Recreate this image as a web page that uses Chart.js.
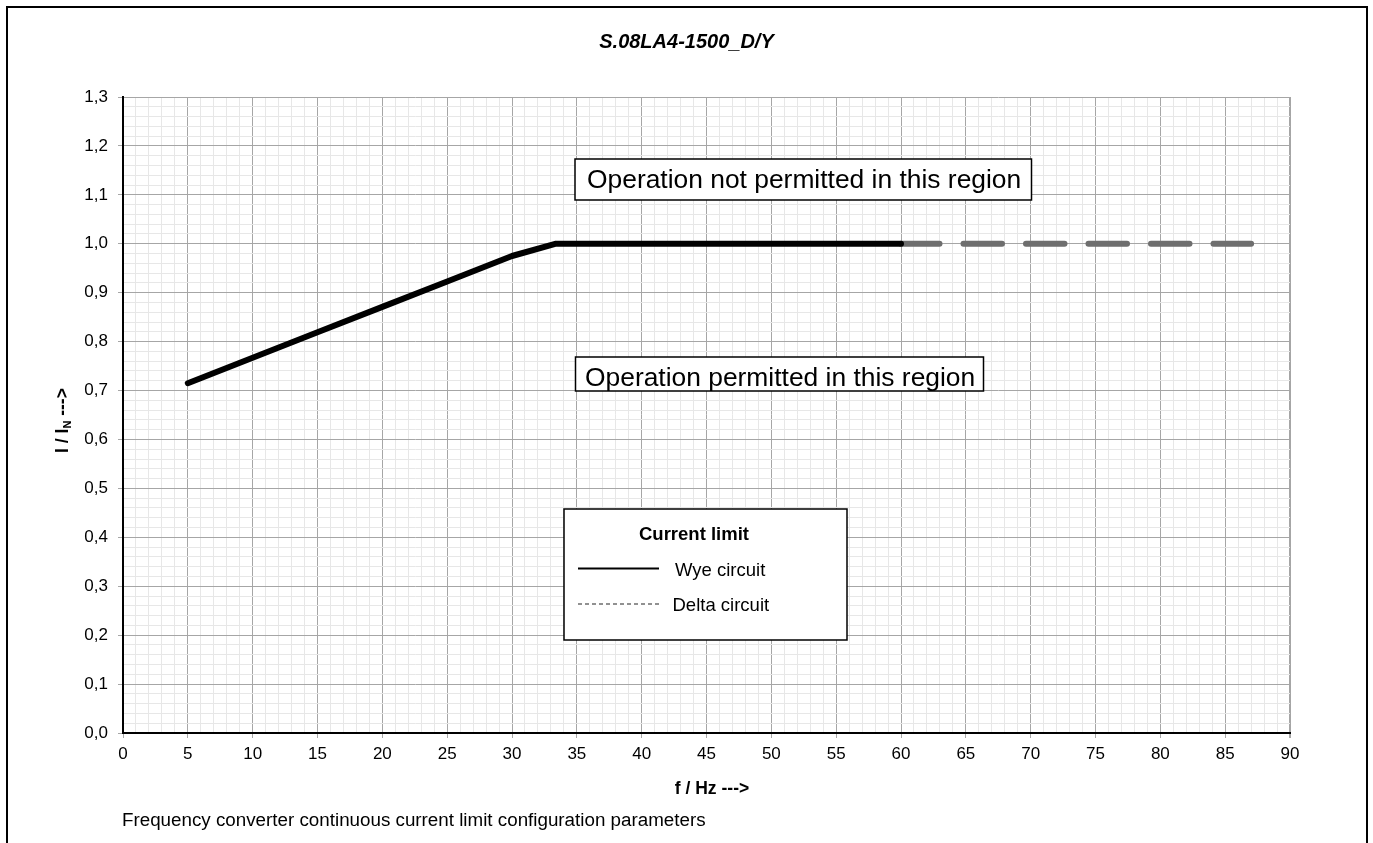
<!DOCTYPE html>
<html>
<head>
<meta charset="utf-8">
<title>S.08LA4-1500_D/Y</title>
<script src="https://cdn.jsdelivr.net/npm/chart.js@4.4.1/dist/chart.umd.min.js"></script>
<style>
    html, body { margin: 0; padding: 0; background: #fff; }
    #wrap { position: relative; width: 1373px; height: 843px; }
</style>
</head>
<body>
<div id="wrap"><canvas id="limitChart"></canvas></div>
<script>
// --- Current limit data (f / Hz, I / IN) ---
const wyeFreq = [5, 10, 15, 20, 25, 30, 33.33, 60];
const wyeCurrent = [0.715, 0.767, 0.819, 0.871, 0.923, 0.975, 1.0, 1.0];
const deltaFreq = [60, 87];
const deltaCurrent = [1.0, 1.0];

// --- Axis labels ---
const xTickLabels = ['0', '5', '10', '15', '20', '25', '30', '35', '40', '45',
                     '50', '55', '60', '65', '70', '75', '80', '85', '90'];
const yTickLabels = ['0,0', '0,1', '0,2', '0,3', '0,4', '0,5', '0,6',
                     '0,7', '0,8', '0,9', '1,0', '1,1', '1,2', '1,3'];
const xMinorPerMajor = 5;   // 1 Hz minor lines
const yMinorPerMajor = 5;   // 0.02 minor lines

const FONT = "'Liberation Sans', Arial, sans-serif";
const MAJOR_GRID = '#a6a6a6';
const MINOR_GRID = '#e7e7e7';

function toPoints(xs, ys) {
    return xs.map(function(x, i) { return { x: x, y: ys[i] }; });
}

// minor index helpers
function xIndex(v) { return Math.round(v); }
function yIndex(v) { return Math.round(v * 10 * yMinorPerMajor); }

const xMax = (xTickLabels.length - 1) * xMinorPerMajor;
const yMax = (yTickLabels.length - 1) / 10;

/**
 * Frame, title, axis titles, text boxes and the legend box
 */
const sheetDecor = {
    id: 'sheetDecor',
    beforeDraw(chart) {
        const ctx = chart.ctx;
        ctx.save();
        ctx.fillStyle = '#fff';
        ctx.fillRect(0, 0, chart.width, chart.height);
        ctx.restore();
    },
    afterDraw(chart) {
        const ctx = chart.ctx;
        const wye = chart.data.datasets[0];
        const delta = chart.data.datasets[1];
        ctx.save();

        // outer frame
        ctx.strokeStyle = '#000';
        ctx.lineWidth = 2;
        ctx.strokeRect(7, 7, 1360, 860);

        ctx.fillStyle = '#000';

        // chart title
        ctx.font = 'italic bold 20px ' + FONT;
        ctx.textAlign = 'center';
        ctx.textBaseline = 'middle';
        ctx.fillText('S.08LA4-1500_D/Y', chart.width / 2, 42);

        // x axis title
        ctx.font = 'bold 17.5px ' + FONT;
        ctx.textBaseline = 'alphabetic';
        ctx.fillText('f / Hz --->', 712, 794);

        // y axis title with subscript N
        ctx.save();
        ctx.translate(62, 420.5);
        ctx.rotate(-Math.PI / 2);
        const bigFont = 'bold 17.5px ' + FONT;
        const subFont = 'bold 11px ' + FONT;
        ctx.font = bigFont;
        const wA = ctx.measureText('I / I').width;
        const wC = ctx.measureText(' --->').width;
        ctx.font = subFont;
        const wB = ctx.measureText('N').width;
        let tx = -(wA + wB + wC) / 2;
        ctx.textAlign = 'left';
        ctx.textBaseline = 'alphabetic';
        ctx.font = bigFont;
        ctx.fillText('I / I', tx, 6);
        tx += wA;
        ctx.font = subFont;
        ctx.fillText('N', tx, 9);
        tx += wB;
        ctx.font = bigFont;
        ctx.fillText(' --->', tx, 6);
        ctx.restore();

        // footnote
        ctx.font = '18.8px ' + FONT;
        ctx.textAlign = 'left';
        ctx.fillText('Frequency converter continuous current limit configuration parameters', 122, 826);

        // region text boxes
        function textBox(x, y, w, h, text, tx, ty) {
            ctx.fillStyle = '#fff';
            ctx.fillRect(x, y, w, h);
            ctx.strokeStyle = '#000';
            ctx.lineWidth = 1.5;
            ctx.strokeRect(x, y, w, h);
            ctx.fillStyle = '#000';
            ctx.font = '26.4px ' + FONT;
            ctx.textAlign = 'left';
            ctx.fillText(text, tx, ty);
        }
        textBox(575, 159, 456.5, 41, 'Operation not permitted in this region', 587, 187.5);
        textBox(575.5, 357, 408, 34, 'Operation permitted in this region', 585, 386);

        // legend box
        ctx.fillStyle = '#fff';
        ctx.fillRect(564, 509, 283, 131);
        ctx.strokeStyle = '#000';
        ctx.lineWidth = 1.5;
        ctx.strokeRect(564, 509, 283, 131);

        ctx.fillStyle = '#000';
        ctx.font = 'bold 18.5px ' + FONT;
        ctx.textAlign = 'center';
        ctx.fillText('Current limit', 694, 540);

        ctx.lineCap = 'butt';
        ctx.strokeStyle = wye.borderColor;
        ctx.lineWidth = 2;
        ctx.beginPath();
        ctx.moveTo(578, 568.5);
        ctx.lineTo(659, 568.5);
        ctx.stroke();

        ctx.strokeStyle = delta.borderColor;
        ctx.lineWidth = 1.5;
        ctx.setLineDash([4, 3]);
        ctx.beginPath();
        ctx.moveTo(578, 604);
        ctx.lineTo(659, 604);
        ctx.stroke();
        ctx.setLineDash([]);

        ctx.font = '18.5px ' + FONT;
        ctx.textAlign = 'left';
        ctx.fillText(wye.label, 675, 575.5);
        ctx.fillText(delta.label, 672.5, 610.5);

        ctx.restore();
    }
};

const ctx = document.getElementById('limitChart').getContext('2d');
new Chart(ctx, {
    type: 'line',
    data: {
        datasets: [{
            label: 'Wye circuit',
            data: toPoints(wyeFreq, wyeCurrent),
            borderColor: '#000000',
            borderWidth: 6,
            borderCapStyle: 'round',
            borderJoinStyle: 'round',
            pointRadius: 0,
            tension: 0,
            order: 0
        }, {
            label: 'Delta circuit',
            data: toPoints(deltaFreq, deltaCurrent),
            borderColor: '#6e6e6e',
            borderWidth: 6,
            borderDash: [38.5, 24],
            borderCapStyle: 'round',
            pointRadius: 0,
            tension: 0,
            order: 1
        }]
    },
    options: {
        responsive: true,
        maintainAspectRatio: false,
        animation: false,
        layout: {
            padding: { left: 0, right: 83, top: 97, bottom: 0 }
        },
        plugins: {
            legend: { display: false },
            title: { display: false },
            tooltip: { enabled: false }
        },
        scales: {
            x: {
                type: 'linear',
                min: 0,
                max: xMax,
                afterBuildTicks: function(scale) {
                    const t = [];
                    for (let i = 0; i <= xMax; i++) t.push({ value: i });
                    scale.ticks = t;
                },
                afterFit: function(scale) { scale.height = 110; },
                ticks: {
                    autoSkip: false,
                    maxRotation: 0,
                    padding: 6,
                    color: '#000',
                    font: { family: FONT, size: 17 },
                    callback: function(value) {
                        const i = xIndex(value);
                        return i % xMinorPerMajor === 0 ? xTickLabels[i / xMinorPerMajor] : '';
                    }
                },
                grid: {
                    tickLength: 5,
                    color: function(c) {
                        return c.tick && xIndex(c.tick.value) % xMinorPerMajor === 0 ? MAJOR_GRID : MINOR_GRID;
                    },
                    tickColor: function(c) {
                        return c.tick && xIndex(c.tick.value) % xMinorPerMajor === 0 ? MAJOR_GRID : 'rgba(0,0,0,0)';
                    },
                    lineWidth: function(c) {
                        return c.tick && xIndex(c.tick.value) === xMax ? 2 : 1;
                    }
                },
                border: { color: '#000', width: 2 }
            },
            y: {
                type: 'linear',
                min: 0,
                max: yMax,
                afterBuildTicks: function(scale) {
                    const t = [];
                    const n = (yTickLabels.length - 1) * yMinorPerMajor;
                    for (let i = 0; i <= n; i++) t.push({ value: i / (10 * yMinorPerMajor) });
                    scale.ticks = t;
                },
                afterFit: function(scale) { scale.width = 123; },
                ticks: {
                    autoSkip: false,
                    padding: 10,
                    color: '#000',
                    font: { family: FONT, size: 17 },
                    callback: function(value) {
                        const i = yIndex(value);
                        return i % yMinorPerMajor === 0 ? yTickLabels[i / yMinorPerMajor] : '';
                    }
                },
                grid: {
                    tickLength: 5,
                    color: function(c) {
                        return c.tick && yIndex(c.tick.value) % yMinorPerMajor === 0 ? MAJOR_GRID : MINOR_GRID;
                    },
                    tickColor: function(c) {
                        return c.tick && yIndex(c.tick.value) % yMinorPerMajor === 0 ? MAJOR_GRID : 'rgba(0,0,0,0)';
                    }
                },
                border: { color: '#000', width: 2 }
            }
        }
    },
    plugins: [sheetDecor]
});
</script>
</body>
</html>
